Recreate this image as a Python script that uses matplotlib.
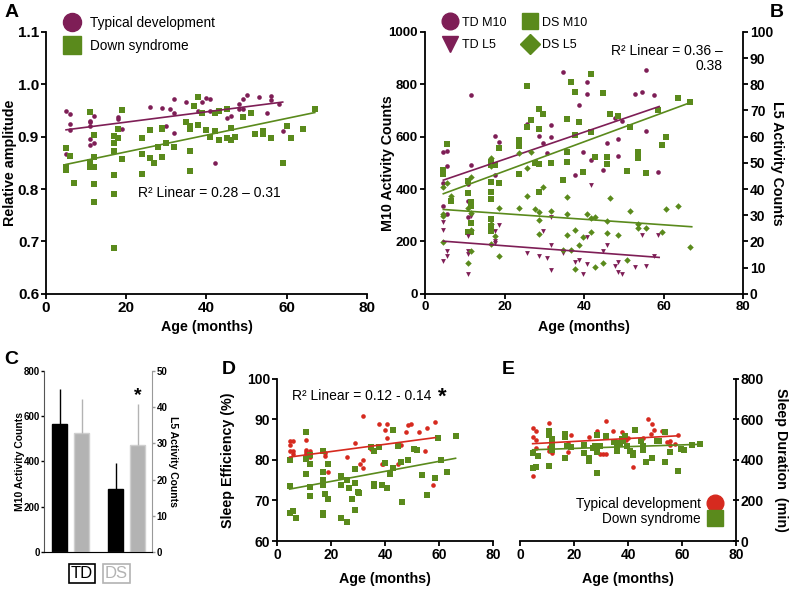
import matplotlib

matplotlib.use("Agg")
import matplotlib.pyplot as plt
from matplotlib.lines import Line2D
import numpy as np

plt.rcParams["font.family"] = ["Liberation Sans", "DejaVu Sans"]

PURPLE = "#7e1e56"
GREEN = "#5a8a1c"
RED = "#d62a1f"
GRAY = "#b3b3b3"

# ---- panel A: relative amplitude ----
td_a_age = [5, 6, 6, 6, 5, 5, 11, 11, 11, 12, 11, 11, 12, 18, 18, 19, 18, 26, 29, 31, 32, 32,
            30, 32, 35, 38, 39, 40, 41, 41, 42, 45, 46, 48, 49, 48, 50, 49, 53, 56, 56, 55, 58, 59]
td_a_amp = [0.949, 0.943, 0.924, 0.913, 0.879, 0.866, 0.930, 0.927, 0.920, 0.940, 0.895, 0.885,
            0.888, 0.938, 0.933, 0.915, 0.900, 0.956, 0.954, 0.953, 0.972, 0.946, 0.921, 0.907,
            0.967, 0.949, 0.967, 0.973, 0.972, 0.949, 0.850, 0.935, 0.940, 0.952, 0.952, 0.962,
            0.980, 0.971, 0.975, 0.977, 0.969, 0.946, 0.963, 0.911]
ds_a_age = [5, 5, 5, 6, 7, 11, 11, 12, 12, 11, 12, 12, 12, 17, 17, 17, 18, 18, 19, 19, 17, 17,
            17, 24, 24, 24, 26, 26, 27, 28, 29, 29, 29, 30, 32, 35, 36, 36, 36, 36, 37, 38, 38,
            39, 40, 41, 42, 42, 43, 43, 45, 45, 46, 46, 47, 49, 51, 52, 54, 54, 56, 59, 60, 61,
            64, 67]
ds_a_amp = [0.878, 0.843, 0.836, 0.864, 0.811, 0.947, 0.852, 0.903, 0.862, 0.843, 0.842, 0.810,
            0.775, 0.902, 0.887, 0.873, 0.915, 0.897, 0.951, 0.858, 0.826, 0.790, 0.688, 0.897,
            0.867, 0.829, 0.913, 0.860, 0.850, 0.881, 0.914, 0.916, 0.861, 0.888, 0.881, 0.927,
            0.920, 0.915, 0.873, 0.835, 0.959, 0.975, 0.923, 0.946, 0.912, 0.900, 0.946, 0.911,
            0.949, 0.894, 0.953, 0.897, 0.916, 0.894, 0.900, 0.937, 0.946, 0.906, 0.911, 0.905,
            0.898, 0.849, 0.921, 0.898, 0.915, 0.953]
td_a_fit = ([5, 59], [0.913, 0.966])
ds_a_fit = ([5, 67], [0.847, 0.946])

# ---- panel B: M10 / L5 activity ----
td_m10_age = [4.6, 5.6, 5.6, 4.6, 4.6, 4.6, 5.6, 11.6, 11.6, 10.8, 10.8, 10.8, 17.7, 18.7, 17.7,
              25.7, 28.7, 34.7, 40.7, 40.7, 38.7, 31.7, 29.7, 31.7, 30.7, 39.7, 45.7, 48.6, 47.7,
              49.6, 52.9, 54.6, 55.6, 55.6, 41.7, 44.7, 37.7, 48.6, 57.7, 58.7]
td_m10 = [540, 546, 489, 458, 423, 336, 305, 758, 492, 419, 354, 293, 602, 580, 452, 650, 602,
          846, 808, 762, 721, 646, 574, 597, 536, 541, 574, 592, 672, 659, 762, 772, 856, 623,
          510, 472, 454, 526, 759, 466]
ds_m10_age = [4.6, 4.6, 6.6, 5.6, 10.8, 10.8, 11.6, 11.6, 11.6, 10.8, 11.6, 16.7, 16.7, 16.7,
              16.7, 16.7, 17.7, 18.7, 18.7, 16.7, 16.7, 16.7, 23.7, 23.7, 23.7, 25.6, 25.7, 26.7,
              28.7, 28.7, 27.7, 28.7, 28.7, 41.7, 36.7, 37.7, 44.7, 29.7, 35.7, 38.7, 46.6, 48.6,
              51.6, 37.7, 41.7, 35.7, 31.7, 35.7, 42.7, 45.7, 45.7, 39.7, 50.7, 53.6, 53.6, 55.6,
              34.7, 63.7, 66.7, 58.7, 60.7, 59.7]
ds_m10 = [473, 458, 355, 573, 432, 385, 349, 336, 272, 236, 236, 502, 490, 428, 387, 362, 490,
          556, 423, 285, 259, 240, 588, 566, 456, 794, 636, 665, 707, 630, 498, 496, 390, 838,
          808, 769, 766, 685, 669, 656, 687, 680, 636, 605, 618, 541, 500, 503, 523, 523, 495,
          464, 467, 541, 520, 462, 433, 749, 733, 703, 599, 570]
td_l5_age = [4.6, 4.6, 5.6, 5.6, 4.6, 11.6, 10.8, 10.8, 10.8, 10.8, 17.7, 18.7, 17.7, 17.7, 25.7,
             28.7, 41.7, 31.7, 29.7, 31.7, 30.7, 31.7, 34.7, 37.7, 38.7, 39.7, 40.7, 40.7, 44.7,
             45.7, 47.7, 48.6, 48.6, 49.6, 52.9, 54.6, 55.6, 58.7, 57.7]
td_l5 = [27.6, 24.4, 16.4, 14.4, 12.7, 29.8, 21.9, 16.4, 15.3, 7.7, 24.0, 26.3, 20.2, 19.3, 15.5,
         14.4, 41.7, 29.2, 24.1, 18.7, 13.6, 9.0, 15.6, 12.3, 13.1, 7.7, 11.3, 21.5, 16.4, 18.5,
         10.8, 12.3, 8.5, 7.4, 10.3, 22.3, 10.8, 22.6, 14.3]
ds_l5_age = [4.6, 5.6, 6.6, 4.6, 4.6, 4.6, 11.6, 10.8, 11.6, 11.6, 11.6, 10.8, 16.7, 16.7, 16.7,
             16.7, 17.7, 16.7, 18.7, 18.7, 23.7, 23.7, 25.7, 25.7, 26.7, 27.7, 28.7, 28.7, 28.7,
             29.7, 31.7, 35.7, 35.7, 35.7, 34.7, 36.7, 37.7, 37.7, 38.7, 39.7, 40.7, 41.7, 41.7,
             42.7, 42.7, 44.7, 45.7, 45.7, 46.6, 48.6, 50.7, 51.6, 53.6, 53.6, 55.6, 60.7, 63.7,
             59.7, 66.7]
ds_l5 = [40.6, 42.3, 37.4, 30.4, 29.8, 19.8, 44.6, 32.7, 30.7, 24.4, 16.4, 11.9, 52.0, 48.7, 26.5,
         24.8, 21.9, 18.9, 32.6, 14.4, 53.6, 32.6, 48.1, 37.3, 54.1, 32.3, 22.7, 31.3, 28.1, 40.8,
         31.8, 36.9, 30.3, 22.3, 16.7, 16.9, 24.4, 9.5, 18.6, 21.5, 30.3, 29.0, 23.6, 29.5, 10.3,
         11.8, 27.7, 23.1, 36.7, 22.3, 13.1, 31.8, 26.7, 25.1, 25.1, 32.3, 33.6, 23.5, 17.8]
td_m10_fit = ([4.6, 58.9], [434, 715])
ds_m10_fit = ([4.6, 67.1], [382, 732])
td_l5_fit = ([4.6, 58.9], [20.1, 13.9])
ds_l5_fit = ([4.6, 67.1], [32.2, 25.6])

# ---- panel C: group means ----
groups = ["TD", "DS"]
m10_mean = [565, 279]
m10_err = [154, 114]
l5_mean = [32.8, 29.5]
l5_err = [9.3, 11.2]

# ---- panel D: sleep efficiency ----
td_d_age = [4.7, 5.9, 4.7, 4.7, 5.9, 5.9, 10.9, 10.9, 10.9, 12.1, 10.9, 12.1, 17.9, 17.9, 18.9,
            25.9, 28.9, 31.9, 30.6, 31.9, 31.9, 34.8, 37.8, 40.0, 40.7, 40.7, 38.8, 48.6, 49.7,
            47.8, 52.7, 55.7, 58.6, 54.8, 57.8, 45.9, 44.8, 39.4]
td_d_se = [84.7, 84.7, 83.7, 82.3, 82.3, 81.4, 84.8, 82.5, 82.0, 82.2, 81.5, 80.7, 81.8, 81.0,
           77.0, 80.6, 84.1, 90.8, 78.9, 80.0, 77.9, 82.7, 88.8, 87.4, 88.8, 85.5, 78.9, 88.5,
           88.9, 86.8, 86.9, 87.9, 89.3, 82.1, 73.7, 83.6, 79.0, 79.0]
ds_d_age = [4.7, 4.7, 4.7, 5.9, 6.9, 10.9, 10.9, 12.1, 12.1, 10.9, 12.1, 12.1, 16.9, 16.9, 16.9,
            16.9, 16.9, 16.9, 18.9, 17.9, 18.9, 23.7, 23.7, 23.7, 25.8, 25.9, 26.8, 27.8, 28.9,
            28.9, 28.9, 29.9, 30.4, 34.8, 35.8, 35.8, 37.9, 35.8, 42.8, 39.9, 42.8, 41.7, 44.8,
            45.8, 48.6, 50.7, 51.7, 53.7, 58.6, 59.6, 60.6, 63.1, 66.1, 55.6, 46.4, 38.9, 40.9]
ds_d_se = [79.9, 73.6, 67.0, 67.4, 65.6, 87.0, 80.2, 81.3, 79.0, 76.6, 73.4, 71.1, 82.2, 77.0,
           75.1, 73.7, 67.0, 66.4, 79.0, 71.5, 70.4, 76.1, 73.7, 65.7, 64.8, 75.1, 73.1, 70.4,
           77.8, 74.4, 67.6, 72.0, 71.8, 83.1, 74.1, 73.6, 83.1, 82.1, 87.4, 79.2, 77.9, 76.6,
           83.5, 79.4, 80.0, 82.7, 82.4, 76.2, 75.6, 85.3, 80.0, 77.0, 86.0, 71.4, 69.7, 73.7, 73.1]
td_d_fit = ([4.7, 58.6], [80.7, 85.5])
ds_d_fit = ([4.7, 66.1], [72.8, 80.4])

# ---- panel E: sleep duration ----
td_e_age = [4.7, 5.8, 4.7, 5.8, 5.8, 4.7, 10.9, 10.9, 10.9, 10.9, 11.7, 11.7, 18.8, 17.9, 17.9,
            25.7, 28.6, 31.9, 30.9, 29.6, 31.9, 34.6, 37.7, 40.0, 39.3, 47.5, 48.8, 49.6, 48.5,
            52.5, 54.6, 55.6, 55.6, 57.4, 58.6, 45.4, 41.7]
td_e_min = [557, 541, 511, 500, 458, 322, 582, 524, 463, 442, 483, 434, 524, 483, 439, 511, 544,
            590, 429, 429, 429, 544, 536, 508, 496, 602, 579, 546, 529, 541, 486, 491, 475, 478,
            524, 508, 364]
ds_e_age = [4.7, 4.7, 5.8, 6.8, 10.9, 10.9, 10.9, 11.7, 11.7, 11.7, 16.7, 16.7, 16.7, 17.5, 18.8,
            23.7, 23.7, 25.7, 25.7, 26.9, 27.8, 28.6, 28.6, 28.6, 29.6, 31.9, 34.8, 35.8, 35.8,
            36.8, 37.7, 38.9, 37.0, 38.3, 42.6, 39.5, 40.7, 41.7, 41.7, 44.7, 45.7, 45.7, 46.7,
            48.8, 50.6, 51.6, 53.7, 55.6, 53.7, 58.6, 59.5, 60.7, 63.6, 66.7]
ds_e_min = [434, 359, 364, 420, 541, 524, 371, 503, 467, 450, 529, 513, 409, 470, 463, 475, 434,
            409, 397, 458, 470, 524, 437, 335, 470, 519, 486, 470, 442, 483, 503, 519, 483, 491,
            549, 470, 442, 434, 426, 495, 470, 447, 392, 409, 495, 491, 536, 439, 391, 343, 453,
            447, 475, 480]
td_e_fit = ([4.7, 58.6], [480, 519])
ds_e_fit = ([4.7, 66.7], [450, 477])

LABEL = dict(fontsize=10.3, fontweight="bold")


def style(ax, left=True, right=False, size=10):
    ax.spines["top"].set_visible(False)
    ax.spines["right"].set_visible(right)
    ax.spines["left"].set_visible(left)
    for s in ax.spines.values():
        s.set_linewidth(1.3)
    ax.tick_params(labelsize=size, width=1.3, length=3.5, pad=1.5)
    for lab in ax.get_xticklabels() + ax.get_yticklabels():
        lab.set_fontweight("bold")


def ylabel_left(ax, text, x, **kw):
    ax.set_ylabel(text, rotation=90, va="bottom", ha="center", rotation_mode="anchor", **kw)
    ax.yaxis.set_label_coords(x, 0.5)


def ylabel_right(ax, text, x, **kw):
    ax.set_ylabel(text, rotation=270, va="bottom", ha="center", rotation_mode="anchor", **kw)
    ax.yaxis.set_label_coords(x, 0.5)


def xlabel(ax, y):
    ax.set_xlabel("Age (months)", va="top", **LABEL)
    ax.xaxis.set_label_coords(0.5, y)


fig = plt.figure(figsize=(7.89, 5.90), dpi=100)

# Panel A
axA = fig.add_axes([0.0583, 0.502, 0.4068, 0.444])
axA.scatter(td_a_age, td_a_amp, s=11, color=PURPLE, marker="o", lw=0)
axA.scatter(ds_a_age, ds_a_amp, s=14, color=GREEN, marker="s", lw=0)
axA.plot(*td_a_fit, color=PURPLE, lw=1.2)
axA.plot(*ds_a_fit, color=GREEN, lw=1.2)
axA.set_xlim(0, 80)
axA.set_ylim(0.6, 1.1)
axA.set_xticks([0, 20, 40, 60, 80])
axA.set_yticks([0.6, 0.7, 0.8, 0.9, 1.0, 1.1])
style(axA, size=11)
xlabel(axA, -0.099)
ylabel_left(axA, "Relative amplitude", -0.091, **LABEL)
axA.text(0.51, 0.386, "R² Linear = 0.28 – 0.31", transform=axA.transAxes,
         ha="center", va="center", fontsize=10)
hA = [Line2D([], [], marker="o", ls="", color=PURPLE, ms=13),
      Line2D([], [], marker="s", ls="", color=GREEN, ms=13)]
axA.legend(hA, ["Typical development", "Down syndrome"], loc="center left",
           bbox_to_anchor=(65 / 789, 1 - 34.5 / 590), bbox_transform=fig.transFigure,
           frameon=False, fontsize=9.8, handlelength=1.0, handletextpad=0.8,
           labelspacing=0.65, borderaxespad=0, borderpad=0)

# Panel B
axB = fig.add_axes([0.5387, 0.502, 0.403, 0.444])
axB2 = axB.twinx()
axB.scatter(td_m10_age, td_m10, s=11, color=PURPLE, marker="o", lw=0)
axB.scatter(ds_m10_age, ds_m10, s=14, color=GREEN, marker="s", lw=0)
axB2.scatter(td_l5_age, td_l5, s=12, color=PURPLE, marker="v", lw=0)
axB2.scatter(ds_l5_age, ds_l5, s=11, color=GREEN, marker="D", lw=0)
axB.plot(*td_m10_fit, color=PURPLE, lw=1.2)
axB.plot(*ds_m10_fit, color=GREEN, lw=1.2)
axB2.plot(*td_l5_fit, color=PURPLE, lw=1.2)
axB2.plot(*ds_l5_fit, color=GREEN, lw=1.2)
axB.set_xlim(0, 80)
axB.set_ylim(0, 1000)
axB2.set_ylim(0, 100)
axB.set_xticks([0, 20, 40, 60, 80])
axB.set_yticks(range(0, 1001, 200))
axB2.set_yticks(range(0, 101, 10))
style(axB, size=9.5)
style(axB2, left=False, right=True)
axB2.spines["bottom"].set_visible(False)
xlabel(axB, -0.099)
ylabel_left(axB, "M10 Activity Counts", -0.096, **LABEL)
ylabel_right(axB2, "L5 Activity Counts", 1.085, **LABEL)
axB.text(0.937, 0.955, "R² Linear = 0.36 –\n0.38", transform=axB.transAxes,
         ha="right", va="top", fontsize=10, multialignment="right", linespacing=1.15)
hB = [Line2D([], [], marker="o", ls="", color=PURPLE, ms=12),
      Line2D([], [], marker="v", ls="", color=PURPLE, ms=12),
      Line2D([], [], marker="s", ls="", color=GREEN, ms=12),
      Line2D([], [], marker="D", ls="", color=GREEN, ms=10)]
axB.legend(hB, ["TD M10", "TD L5", "DS M10", "DS L5"], ncol=2, loc="center left",
           bbox_to_anchor=(442.5 / 789, 1 - 34 / 590), bbox_transform=fig.transFigure,
           frameon=False, fontsize=9, handlelength=1.2, handletextpad=0.36,
           labelspacing=0.85, columnspacing=1.24, borderaxespad=0, borderpad=0)

# Panel C
axC = fig.add_axes([0.056, 0.064, 0.137, 0.308])
axC2 = axC.twinx()
gx = np.arange(len(groups))
off, bw = 0.196, 0.27
axC.bar(gx - off, m10_mean, bw, color="black", edgecolor="black")
axC.errorbar(gx - off, m10_mean, yerr=[np.zeros(2), m10_err], fmt="none",
             ecolor="black", elinewidth=1, capsize=0)
axC2.bar(gx + off, l5_mean, bw, color=GRAY, edgecolor="#cfcfcf")
axC2.errorbar(gx + off, l5_mean, yerr=[np.zeros(2), l5_err], fmt="none",
              ecolor=GRAY, elinewidth=1, capsize=0)
axC.set_xlim(-0.473, 1.455)
axC.set_ylim(0, 800)
axC2.set_ylim(0, 50)
axC.set_yticks(range(0, 801, 200))
axC2.set_yticks(range(0, 51, 10))
axC.set_xticks([])
for a in (axC, axC2):
    a.spines["top"].set_visible(False)
    a.tick_params(labelsize=7, width=1, length=2, pad=1)
    for lab in a.get_yticklabels():
        lab.set_fontweight("bold")
axC.spines["right"].set_visible(False)
axC2.spines["left"].set_visible(False)
axC2.spines["right"].set_color("#999999")
axC2.tick_params(color="#999999")
axC.spines["left"].set_color("#555555")
axC.spines["bottom"].set_color("#999999")
ylabel_left(axC, "M10 Activity Counts", -0.176, fontsize=7.5, fontweight="bold")
ylabel_right(axC2, "L5 Activity Counts", 1.148, fontsize=7.5, fontweight="bold")
axC2.text(gx[1] + off, 43, "*", ha="center", va="center", fontsize=14, fontweight="bold")
for x, g, c in zip([0.347, 0.667], groups, ["black", GRAY]):
    axC.text(x, -0.115, g, transform=axC.transAxes, ha="center", va="center",
             fontsize=12, color=c,
             bbox=dict(boxstyle="square,pad=0.12", fc="white", ec=c, lw=1.2))

# Panel D
axD = fig.add_axes([0.351, 0.083, 0.274, 0.275])
axD.scatter(td_d_age, td_d_se, s=11, color=RED, marker="o", lw=0)
axD.scatter(ds_d_age, ds_d_se, s=14, color=GREEN, marker="s", lw=0)
axD.plot(*td_d_fit, color=RED, lw=1.2)
axD.plot(*ds_d_fit, color=GREEN, lw=1.2)
axD.set_xlim(0, 80)
axD.set_ylim(60, 100)
axD.set_xticks([0, 20, 40, 60, 80])
axD.set_yticks([60, 70, 80, 90, 100])
style(axD)
xlabel(axD, -0.19)
ylabel_left(axD, "Sleep Efficiency (%)", -0.194, **LABEL)
axD.text(0.07, 0.895, "R² Linear = 0.12 - 0.14", transform=axD.transAxes,
         ha="left", va="center", fontsize=10)
axD.text(0.765, 0.885, "*", transform=axD.transAxes, ha="center", va="center",
         fontsize=16, fontweight="bold")

# Panel E
axE = fig.add_axes([0.659, 0.083, 0.274, 0.275])
axE.scatter(td_e_age, td_e_min, s=11, color=RED, marker="o", lw=0)
axE.scatter(ds_e_age, ds_e_min, s=14, color=GREEN, marker="s", lw=0)
axE.plot(*td_e_fit, color=RED, lw=1.2)
axE.plot(*ds_e_fit, color=GREEN, lw=1.2)
axE.set_xlim(0, 80)
axE.set_ylim(0, 800)
axE.set_xticks([0, 20, 40, 60, 80])
axE.set_yticks(range(0, 801, 200))
axE.yaxis.tick_right()
axE.yaxis.set_label_position("right")
style(axE, left=False, right=True)
axE.tick_params(axis="y", direction="inout", length=5, pad=0.5)
xlabel(axE, -0.19)
ylabel_right(axE, "Sleep Duration  (min)", 1.175, **LABEL)
hE = [Line2D([], [], marker="o", ls="", color=RED, ms=12),
      Line2D([], [], marker="s", ls="", color=GREEN, ms=12)]
axE.legend(hE, ["Typical development", "Down syndrome"], loc="center right",
           bbox_to_anchor=(723.3 / 789, 1 - 511.5 / 590), bbox_transform=fig.transFigure,
           frameon=False, fontsize=9.8, handlelength=1.2, handletextpad=0.47,
           labelspacing=0.1, markerfirst=False, borderaxespad=0, borderpad=0)

for lbl, x, y in (("A", 0.006, 0.993), ("B", 0.975, 0.993), ("C", 0.006, 0.405),
                  ("D", 0.281, 0.388), ("E", 0.636, 0.388)):
    fig.text(x, y, lbl, fontsize=14, fontweight="bold", va="top", ha="left")

fig.savefig("out.png", dpi=100)
